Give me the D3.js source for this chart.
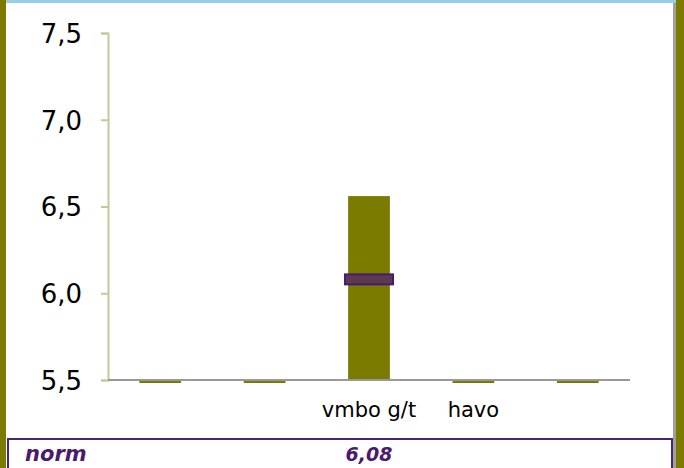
<!DOCTYPE html>
<html>
<head>
<meta charset="utf-8">
<script src="https://cdn.jsdelivr.net/npm/d3@7"></script>
<style>
  body { margin: 0; background: #fff; }
  svg { display: block; font-family: Verdana, "DejaVu Sans", sans-serif; }
</style>
</head>
<body>
<svg id="chart" width="684" height="468"></svg>
<script>
// data
const categories = ['c1', 'c2', 'c3', 'c4', 'c5'];
const categoryLabels = ['', '', 'vmbo g/t', 'havo', ''];
const values = [0, 0, 6.56, 0, 0];
const norms = [null, null, 6.08, null, null];
const yTicks = [5.5, 6.0, 6.5, 7.0, 7.5];
const tableLabel = 'norm';
const tableValues = ['', '', '6,08', '', ''];

const width = 684, height = 468;
const svg = d3.select('#chart');

// frame
svg.append('rect').attr('width', width).attr('height', height).attr('fill', '#fff');
svg.append('rect').attr('x', 0).attr('y', 0).attr('width', 6).attr('height', height).attr('fill', '#7b7b00');
svg.append('rect').attr('x', 676).attr('y', 0).attr('width', 8).attr('height', height).attr('fill', '#7b7b00');
svg.append('rect').attr('x', 673).attr('y', 0).attr('width', 3).attr('height', height).attr('fill', '#a0a0a0');
svg.append('rect').attr('x', 6).attr('y', 0).attr('width', 670).attr('height', 3).attr('fill', '#99cce8');

const x = d3.scaleBand()
  .domain(categories)
  .range([108, 630])
  .paddingInner(0.6)
  .paddingOuter(0.3);

const y = d3.scaleLinear()
  .domain([5.5, 7.5])
  .range([380, 33]);

// y axis
const yAxis = d3.axisLeft(y)
  .tickValues(yTicks)
  .tickSize(7)
  .tickPadding(19)
  .tickFormat(d => d3.format('.1f')(d).replace('.', ','));

const gy = svg.append('g')
  .attr('transform', 'translate(108,0)')
  .call(yAxis);
gy.select('.domain').attr('stroke', '#c8c896').attr('stroke-width', 2);
gy.selectAll('.tick line').attr('stroke', '#c8c896').attr('stroke-width', 2);
gy.selectAll('.tick text')
  .attr('fill', '#000')
  .attr('font-size', 26)
  .attr('font-family', 'Verdana, "DejaVu Sans", sans-serif')
  .attr('dy', '0.36em');

// bars
const y0 = y.domain()[0];
svg.append('g')
  .selectAll('rect')
  .data(values)
  .join('rect')
  .attr('x', (d, i) => x(categories[i]))
  .attr('width', x.bandwidth())
  .attr('y', d => d >= y0 ? y(d) : y(y0) + 1)
  .attr('height', d => d >= y0 ? y(y0) - y(d) : 2)
  .attr('fill', '#7b7b00');

// x baseline
svg.append('line')
  .attr('x1', 108).attr('x2', 630)
  .attr('y1', y(y0)).attr('y2', y(y0))
  .attr('stroke', '#999').attr('stroke-width', 2);

// norm markers
svg.append('g')
  .selectAll('rect')
  .data(norms.map((n, i) => ({ n, c: categories[i] })).filter(d => d.n != null))
  .join('rect')
  .attr('x', d => x(d.c) + x.bandwidth() / 2 - 24)
  .attr('width', 48)
  .attr('y', d => y(d.n) - 5)
  .attr('height', 10)
  .attr('fill', '#5b3a50')
  .attr('stroke', '#4a1a72')
  .attr('stroke-width', 2);

// category labels
svg.append('g')
  .selectAll('text')
  .data(categoryLabels)
  .join('text')
  .attr('x', (d, i) => x(categories[i]) + x.bandwidth() / 2)
  .attr('y', 417)
  .attr('text-anchor', 'middle')
  .attr('font-size', 21)
  .attr('fill', '#000')
  .text(d => d);

// table
svg.append('rect')
  .attr('x', 8).attr('y', 439)
  .attr('width', 664).attr('height', 40)
  .attr('fill', '#fff')
  .attr('stroke', '#4a2470')
  .attr('stroke-width', 2);

svg.append('text')
  .attr('x', 25).attr('y', 461)
  .attr('font-size', 21)
  .attr('font-weight', 'bold')
  .attr('font-style', 'italic')
  .attr('fill', '#4a1a6e')
  .text(tableLabel);

svg.append('g')
  .selectAll('text')
  .data(tableValues)
  .join('text')
  .attr('x', (d, i) => x(categories[i]) + x.bandwidth() / 2)
  .attr('y', 461)
  .attr('text-anchor', 'middle')
  .attr('font-size', 19)
  .attr('font-weight', 'bold')
  .attr('font-style', 'italic')
  .attr('fill', '#4a1a6e')
  .text(d => d);
</script>
</body>
</html>
